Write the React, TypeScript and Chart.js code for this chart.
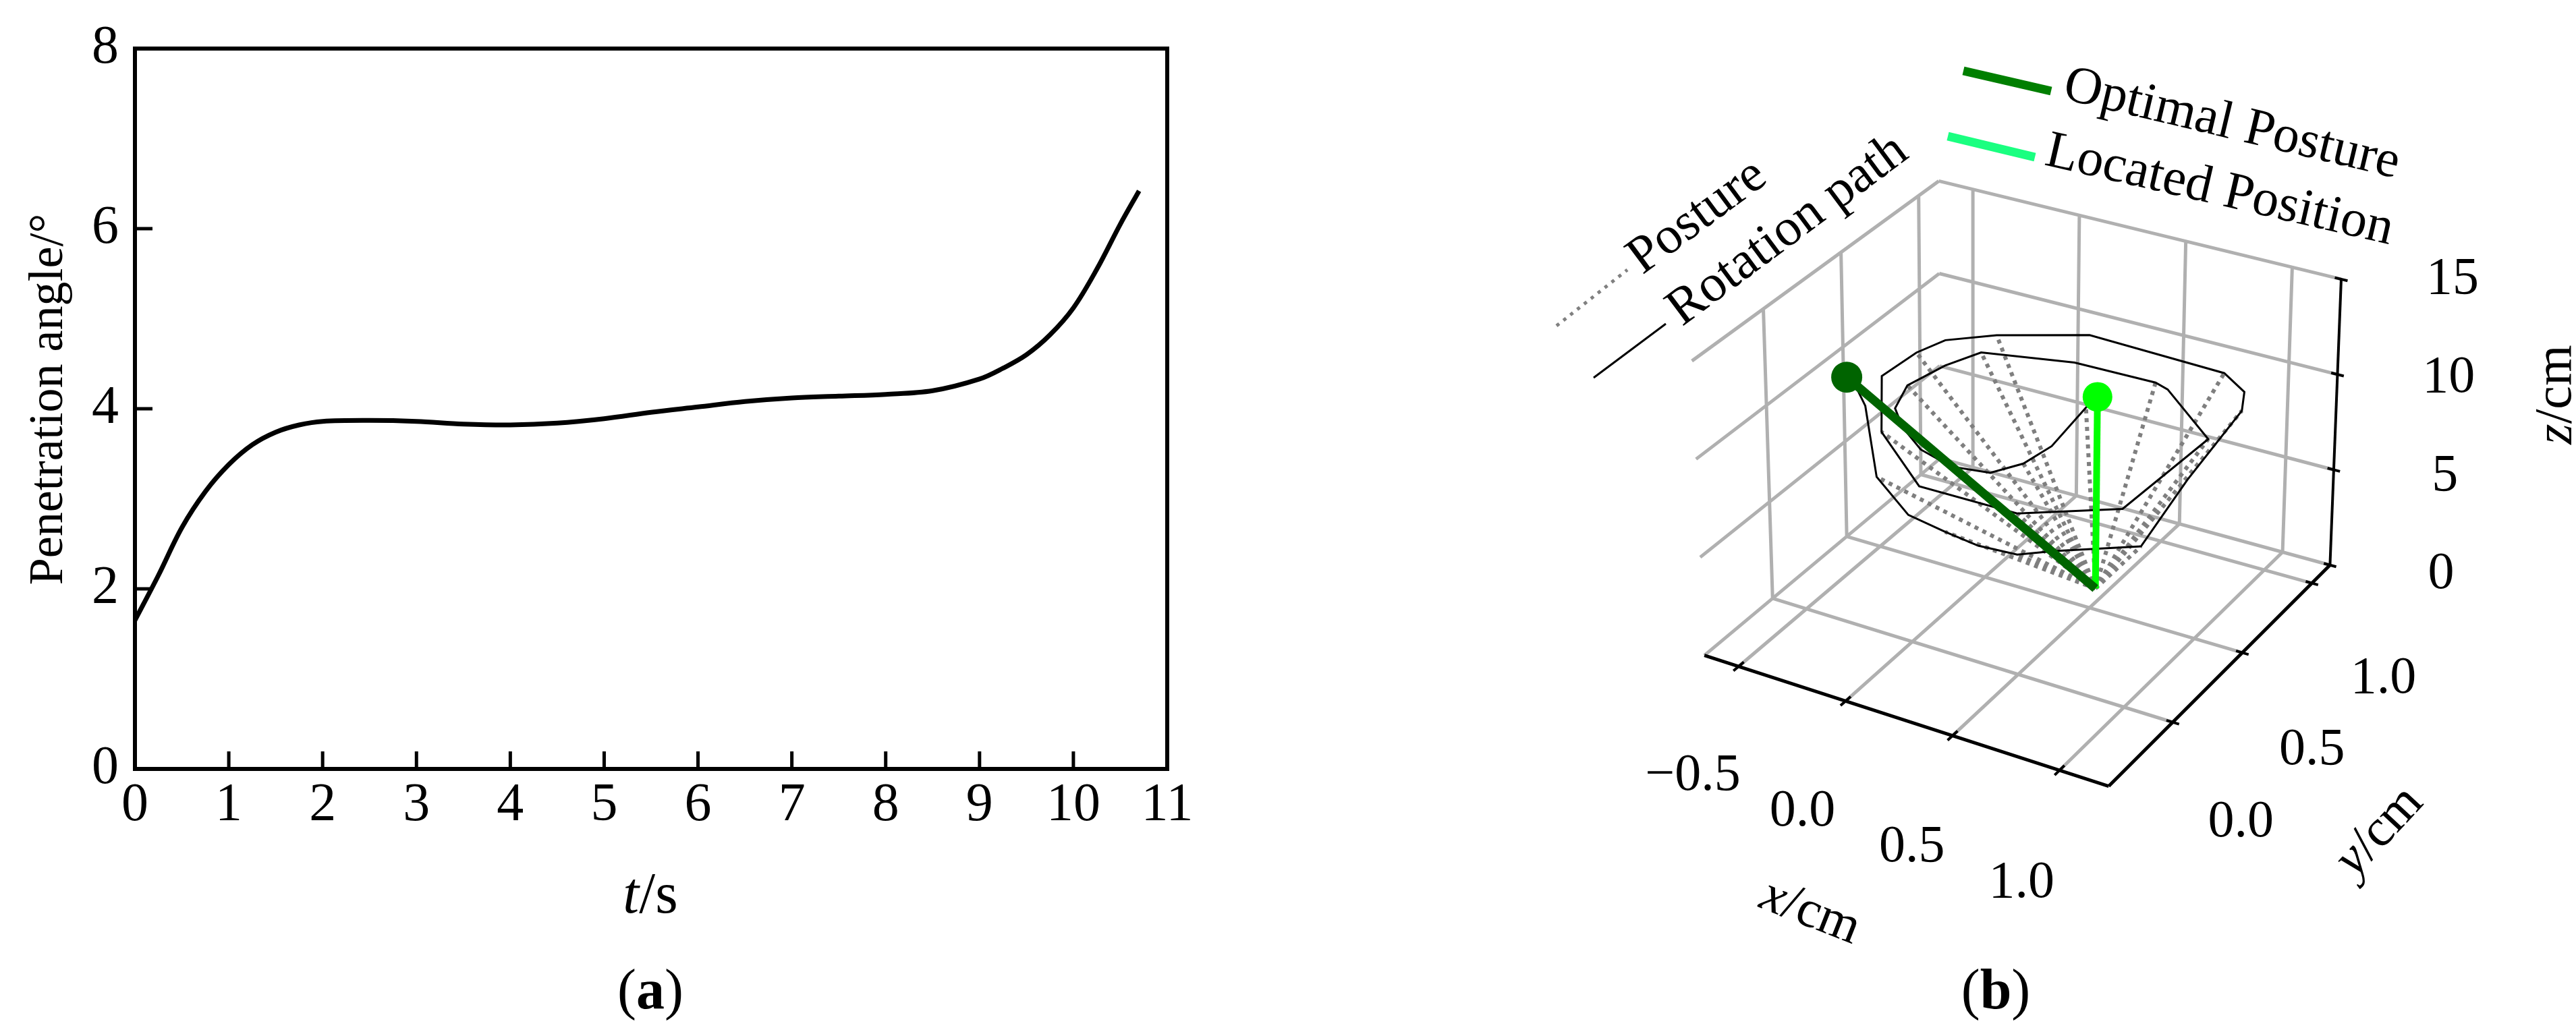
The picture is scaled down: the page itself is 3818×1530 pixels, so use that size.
import React, { useEffect, useRef } from "react";
import { Chart, registerables } from "chart.js";

Chart.register(...registerables);

const SERIF = "'Liberation Serif', 'Times New Roman', serif";
const FS = 78;

// ---------------- panel (a) data ----------------
const timeS = [0, 0.25, 0.5, 0.75, 1, 1.25, 1.5, 1.75, 2, 2.5, 3, 3.5, 4, 4.5, 5, 5.5, 6, 6.5, 7, 7.5, 8, 8.5, 9, 9.25, 9.5, 9.75, 10, 10.25, 10.5, 10.7];
const penetrationAngle = [1.65, 2.15, 2.68, 3.08, 3.38, 3.6, 3.74, 3.82, 3.86, 3.87, 3.86, 3.83, 3.82, 3.84, 3.89, 3.96, 4.02, 4.08, 4.12, 4.14, 4.16, 4.2, 4.33, 4.45, 4.6, 4.82, 5.12, 5.55, 6.05, 6.42];
const timeTicks = [0, 1, 2, 3, 4, 5, 6, 7, 8, 9, 10, 11];
const angleTicks = [0, 2, 4, 6, 8];

// ---------------- panel (b) data ----------------
const pathX = [0.446, 0.449, 0.486, 0.458, 0.381, 0.221, 0.048, -0.108, -0.213, -0.269, -0.224, -0.155, 0.22, 0.595, 0.667, 1.013, 0.981, 0.634, 0.193, -0.159, -0.398, -0.381, -0.335, -0.176, 0.156, 0.806, 0.956, 1.022, 1.097, 1.187, 0.904, 0.793, 0.627, 0.461, 0.271, 0.011, -0.325, -0.456, -0.513];
const pathY = [0.62, 0.537, 0.249, 0.097, -0.015, -0.045, 0.004, 0.108, 0.21, 0.372, 0.559, 0.7, 0.791, 0.8, 0.778, 0.548, -0.001, -0.208, -0.219, 0.042, 0.386, 0.591, 0.717, 0.833, 0.984, 0.965, 0.884, 0.769, 0.276, -0.186, -0.362, -0.447, -0.464, -0.442, -0.408, -0.238, 0.173, 0.289, 0.318];
const pathZ = [10, 10, 10, 10, 10, 10, 10, 10, 10, 10, 10, 10, 10, 10, 10, 10, 10, 10, 10, 10, 10, 10, 10, 10, 10, 10, 10, 10, 10, 10, 10, 10, 10, 10, 10, 10, 10, 10, 10];
// path vertices that carry a dotted "Posture" line from the pivot
const postureIdx = [1, 3, 5, 7, 9, 11, 13, 15, 17, 19, 21, 23, 25, 27, 29, 31, 33, 35, 37];
const pivotPoint = [0.446, 0.62, 0];
const optimalTop = [-0.513, 0.318, 10];
const locatedTop = [0.446, 0.62, 10];
const xTicks3d = [-0.5, 0.0, 0.5, 1.0];
const yTicks3d = [0.0, 0.5, 1.0];
const zTicks3d = [0, 5, 10, 15];
const xLim3d = [-0.66, 1.23];
const yLim3d = [-0.46, 1.13];
const zLim3d = [0, 15];

// ---------------- layout ----------------
const PAGE_W = 3818;
const PAGE_H = 1530;
const WA = 1900;
const WB = PAGE_W - WA;
const OFF_B = WA;

// screen positions (page px) of the 3D box corners: cUVW
const BOX: Record<string, [number, number]> = {
  c000: [2518, 978],
  c100: [3132, 1178],
  c110: [3468, 840],
  c010: [2876, 677],
  c001: [2499, 528],
  c101: [3138, 718],
  c111: [3485, 403],
  c011: [2874, 253],
};

function project(x: number, y: number, z: number) {
  const u = (x - xLim3d[0]) / (xLim3d[1] - xLim3d[0]);
  const v = (y - yLim3d[0]) / (yLim3d[1] - yLim3d[0]);
  const w = (z - zLim3d[0]) / (zLim3d[1] - zLim3d[0]);
  const terms: [number, [number, number]][] = [
    [(1 - u) * (1 - v) * (1 - w), BOX.c000],
    [u * (1 - v) * (1 - w), BOX.c100],
    [u * v * (1 - w), BOX.c110],
    [(1 - u) * v * (1 - w), BOX.c010],
    [(1 - u) * (1 - v) * w, BOX.c001],
    [u * (1 - v) * w, BOX.c101],
    [u * v * w, BOX.c111],
    [(1 - u) * v * w, BOX.c011],
  ];
  let px = 0;
  let py = 0;
  for (const [k, p] of terms) {
    px += k * p[0];
    py += k * p[1];
  }
  return { x: px - OFF_B, y: py };
}

type P3 = number[];
function segments(list: [P3, P3][]) {
  const out: { x: number; y: number }[] = [];
  for (const [p, q] of list) {
    out.push(project(p[0], p[1], p[2]));
    out.push(project(q[0], q[1], q[2]));
    out.push({ x: NaN, y: NaN });
  }
  return out;
}

type Run = { text: string; font: string };
function drawRuns(ctx: CanvasRenderingContext2D, runs: Run[], cx: number, cy: number, angleDeg: number, align: "center" | "left" = "center") {
  ctx.save();
  ctx.translate(cx, cy);
  ctx.rotate((angleDeg * Math.PI) / 180);
  ctx.textBaseline = "middle";
  ctx.textAlign = "left";
  ctx.fillStyle = "#000";
  let total = 0;
  const widths = runs.map((r) => {
    ctx.font = r.font;
    const w = ctx.measureText(r.text).width;
    total += w;
    return w;
  });
  let x = align === "center" ? -total / 2 : 0;
  runs.forEach((r, i) => {
    ctx.font = r.font;
    ctx.fillText(r.text, x, 0);
    x += widths[i];
  });
  ctx.restore();
}

const reg = (s = FS) => `${s}px ${SERIF}`;
const ita = (s = FS) => `italic ${s}px ${SERIF}`;
const bold = (s = FS) => `bold ${s}px ${SERIF}`;

// ---------------- panel (a) plugin ----------------
const framePluginA = {
  id: "frameA",
  afterDraw(chart: any) {
    const { ctx, chartArea, scales } = chart;
    const { left, right, top, bottom } = chartArea;
    ctx.save();
    ctx.strokeStyle = "#000";
    ctx.lineCap = "butt";
    ctx.lineWidth = 5;
    ctx.beginPath();
    timeTicks.forEach((t) => {
      if (t <= 0 || t >= 11) return;
      const px = scales.x.getPixelForValue(t);
      ctx.moveTo(px, bottom);
      ctx.lineTo(px, bottom - 26);
    });
    angleTicks.forEach((a) => {
      if (a <= 0 || a >= 8) return;
      const py = scales.y.getPixelForValue(a);
      ctx.moveTo(left, py);
      ctx.lineTo(left + 26, py);
    });
    ctx.stroke();
    ctx.lineWidth = 6;
    ctx.beginPath();
    ctx.moveTo(left - 3, top);
    ctx.lineTo(right, top);
    ctx.lineTo(right, bottom + 3);
    ctx.stroke();
    ctx.restore();

    drawRuns(ctx, [{ text: "Penetration angle/°", font: reg(72) }], 73, 592, -90);
    drawRuns(ctx, [{ text: "t", font: ita(86) }, { text: "/s", font: reg(86) }], 964, 1330, 0);
    drawRuns(ctx, [{ text: "(", font: reg(84) }, { text: "a", font: bold(84) }, { text: ")", font: reg(84) }], 964, 1473, 0);
  },
};

// ---------------- panel (b) plugin ----------------
const fmt3 = (t: number) => (t < 0 ? "\u2212" + Math.abs(t).toFixed(1) : t.toFixed(1));

const textPluginB = {
  id: "textB",
  afterDraw(chart: any) {
    const ctx: CanvasRenderingContext2D = chart.ctx;
    const [xlo, xhi] = xLim3d;
    const [ylo, yhi] = yLim3d;
    const [zlo] = zLim3d;
    xTicks3d.forEach((t) => {
      const p = project(t, ylo, zlo);
      drawRuns(ctx, [{ text: fmt3(t), font: reg() }], p.x - 61, p.y + 156, 0);
    });
    yTicks3d.forEach((t) => {
      const p = project(xhi, t, zlo);
      drawRuns(ctx, [{ text: fmt3(t), font: reg() }], p.x + 92, p.y + 139, 0);
    });
    zTicks3d.forEach((t) => {
      const p = project(xhi, yhi, t);
      drawRuns(ctx, [{ text: String(t), font: reg() }], p.x + 150, p.y + 12, 0);
    });
    drawRuns(ctx, [{ text: "x", font: ita() }, { text: "/cm", font: reg() }], 2683 - OFF_B, 1353, 21.5);
    drawRuns(ctx, [{ text: "y", font: ita() }, { text: "/cm", font: reg() }], 3527 - OFF_B, 1233, -47);
    drawRuns(ctx, [{ text: "z", font: ita() }, { text: "/cm", font: reg() }], 3790 - OFF_B, 585, -90);

    // legend (upper right, tilted)
    ctx.save();
    ctx.lineCap = "butt";
    ctx.lineWidth = 13;
    ctx.strokeStyle = "#007f00";
    ctx.beginPath();
    ctx.moveTo(2910 - OFF_B, 105);
    ctx.lineTo(3040 - OFF_B, 135);
    ctx.stroke();
    ctx.strokeStyle = "#1aff80";
    ctx.beginPath();
    ctx.moveTo(2887 - OFF_B, 202);
    ctx.lineTo(3016 - OFF_B, 233);
    ctx.stroke();
    // legend (upper left, tilted)
    ctx.strokeStyle = "#808080";
    ctx.lineWidth = 5;
    ctx.setLineDash([5, 8]);
    ctx.beginPath();
    ctx.moveTo(2307 - OFF_B, 483);
    ctx.lineTo(2412 - OFF_B, 400);
    ctx.stroke();
    ctx.setLineDash([]);
    ctx.strokeStyle = "#000";
    ctx.lineWidth = 3;
    ctx.beginPath();
    ctx.moveTo(2362 - OFF_B, 560);
    ctx.lineTo(2469 - OFF_B, 480);
    ctx.stroke();
    ctx.restore();

    drawRuns(ctx, [{ text: "Optimal Posture", font: reg() }], 3060 - OFF_B, 126, 13.4, "left");
    drawRuns(ctx, [{ text: "Located Position", font: reg() }], 3033 - OFF_B, 224, 13.0, "left");
    drawRuns(ctx, [{ text: "Posture", font: reg() }], 2516 - OFF_B, 322, -36.5);
    drawRuns(ctx, [{ text: "Rotation path", font: reg() }], 2650 - OFF_B, 342, -36.7);

    drawRuns(ctx, [{ text: "(", font: reg(84) }, { text: "b", font: bold(84) }, { text: ")", font: reg(84) }], 2958 - OFF_B, 1473, 0);
  },
};

function buildDatasetsB() {
  const [xlo, xhi] = xLim3d;
  const [ylo, yhi] = yLim3d;
  const [zlo, zhi] = zLim3d;
  const grid: [P3, P3][] = [];
  // floor
  xTicks3d.forEach((x) => grid.push([[x, ylo, zlo], [x, yhi, zlo]]));
  yTicks3d.forEach((y) => grid.push([[xlo, y, zlo], [xhi, y, zlo]]));
  // left wall (x = xlo)
  yTicks3d.forEach((y) => grid.push([[xlo, y, zlo], [xlo, y, zhi]]));
  zTicks3d.forEach((z) => grid.push([[xlo, ylo, z], [xlo, yhi, z]]));
  // back wall (y = yhi)
  xTicks3d.forEach((x) => grid.push([[x, yhi, zlo], [x, yhi, zhi]]));
  zTicks3d.forEach((z) => grid.push([[xlo, yhi, z], [xhi, yhi, z]]));

  const axes: [P3, P3][] = [
    [[xlo, ylo, zlo], [xhi, ylo, zlo]],
    [[xhi, ylo, zlo], [xhi, yhi, zlo]],
  ];
  const zAxis: [P3, P3][] = [[[xhi, yhi, zlo], [xhi, yhi, zhi]]];
  const ticks: [P3, P3][] = [];
  xTicks3d.forEach((x) => ticks.push([[x, ylo - 0.035, zlo], [x, ylo + 0.035, zlo]]));
  yTicks3d.forEach((y) => ticks.push([[xhi - 0.03, y, zlo], [xhi + 0.03, y, zlo]]));
  zTicks3d.forEach((z) => ticks.push([[xhi - 0.03, yhi, z], [xhi + 0.03, yhi, z]]));

  const posture: [P3, P3][] = postureIdx.map((i) => [pivotPoint, [pathX[i], pathY[i], pathZ[i]]] as [P3, P3]);
  const path = pathX.map((x, i) => project(x, pathY[i], pathZ[i]));

  const line = (data: any[], color: string, width: number, order: number, extra: any = {}) => ({
    data,
    showLine: true,
    borderColor: color,
    backgroundColor: color,
    borderWidth: width,
    pointRadius: 0,
    pointHoverRadius: 0,
    tension: 0,
    fill: false,
    spanGaps: false,
    order,
    ...extra,
  });

  return [
    line(segments(grid), "#b0b0b0", 5, 20),
    line(segments(axes), "#000", 5, 19),
    line(segments(zAxis), "#000", 4, 18),
    line(segments(ticks), "#000", 4, 17),
    line(segments(posture), "#7f7f7f", 6, 16, { borderDash: [6, 7] }),
    line(path, "#000", 3, 15, { borderJoinStyle: "miter" }),
    line(segments([[pivotPoint, locatedTop]]), "#00ff00", 10, 14),
    line(segments([[pivotPoint, optimalTop]]), "#006400", 13, 13),
    {
      data: [project(locatedTop[0], locatedTop[1], locatedTop[2])],
      showLine: false,
      pointRadius: 22,
      pointHoverRadius: 22,
      backgroundColor: "#00ff00",
      borderWidth: 0,
      order: 12,
    },
    {
      data: [project(optimalTop[0], optimalTop[1], optimalTop[2])],
      showLine: false,
      pointRadius: 23,
      pointHoverRadius: 23,
      backgroundColor: "#006400",
      borderWidth: 0,
      order: 11,
    },
  ];
}

export default function App() {
  const refA = useRef<HTMLCanvasElement>(null);
  const refB = useRef<HTMLCanvasElement>(null);

  useEffect(() => {
    Chart.defaults.font.family = SERIF;
    const tickFont = { family: SERIF, size: 80, lineHeight: 1.2 };
    const chartA = new Chart(refA.current as HTMLCanvasElement, {
      type: "line",
      data: {
        datasets: [
          {
            data: timeS.map((t, i) => ({ x: t, y: penetrationAngle[i] })),
            borderColor: "#000",
            borderWidth: 7,
            pointRadius: 0,
            tension: 0.35,
            fill: false,
          },
        ],
      },
      options: {
        animation: false,
        responsive: false,
        maintainAspectRatio: false,
        layout: { padding: { top: 49, right: 170, bottom: 0, left: 0 } },
        plugins: { legend: { display: false }, tooltip: { enabled: false } },
        scales: {
          x: {
            type: "linear",
            min: 0,
            max: 11,
            afterFit: (s: any) => {
              s.height = 390;
            },
            ticks: { stepSize: 1, font: tickFont, color: "#000", padding: 7, autoSkip: false, maxRotation: 0 },
            grid: { display: false, drawTicks: false },
            border: { display: true, color: "#000", width: 6 },
          },
          y: {
            type: "linear",
            min: 0,
            max: 8,
            afterFit: (s: any) => {
              s.width = 200;
            },
            ticks: { stepSize: 2, font: tickFont, color: "#000", padding: 24 },
            grid: { display: false, drawTicks: false },
            border: { display: true, color: "#000", width: 6 },
          },
        },
      } as any,
      plugins: [framePluginA],
    });

    const chartB = new Chart(refB.current as HTMLCanvasElement, {
      type: "scatter",
      data: { datasets: buildDatasetsB() as any },
      options: {
        animation: false,
        responsive: false,
        maintainAspectRatio: false,
        layout: { padding: 0 },
        plugins: { legend: { display: false }, tooltip: { enabled: false } },
        scales: {
          x: { type: "linear", min: 0, max: WB, display: false },
          y: { type: "linear", min: 0, max: PAGE_H, reverse: true, display: false },
        },
      } as any,
      plugins: [textPluginB],
    });

    return () => {
      chartA.destroy();
      chartB.destroy();
    };
  }, []);

  return (
    <div style={{ position: "absolute", left: 0, top: 0, width: PAGE_W, height: PAGE_H, background: "#fff", overflow: "hidden" }}>
      <canvas ref={refA} width={WA} height={PAGE_H} style={{ position: "absolute", left: 0, top: 0, width: WA, height: PAGE_H }} />
      <canvas ref={refB} width={WB} height={PAGE_H} style={{ position: "absolute", left: WA, top: 0, width: WB, height: PAGE_H }} />
    </div>
  );
}
